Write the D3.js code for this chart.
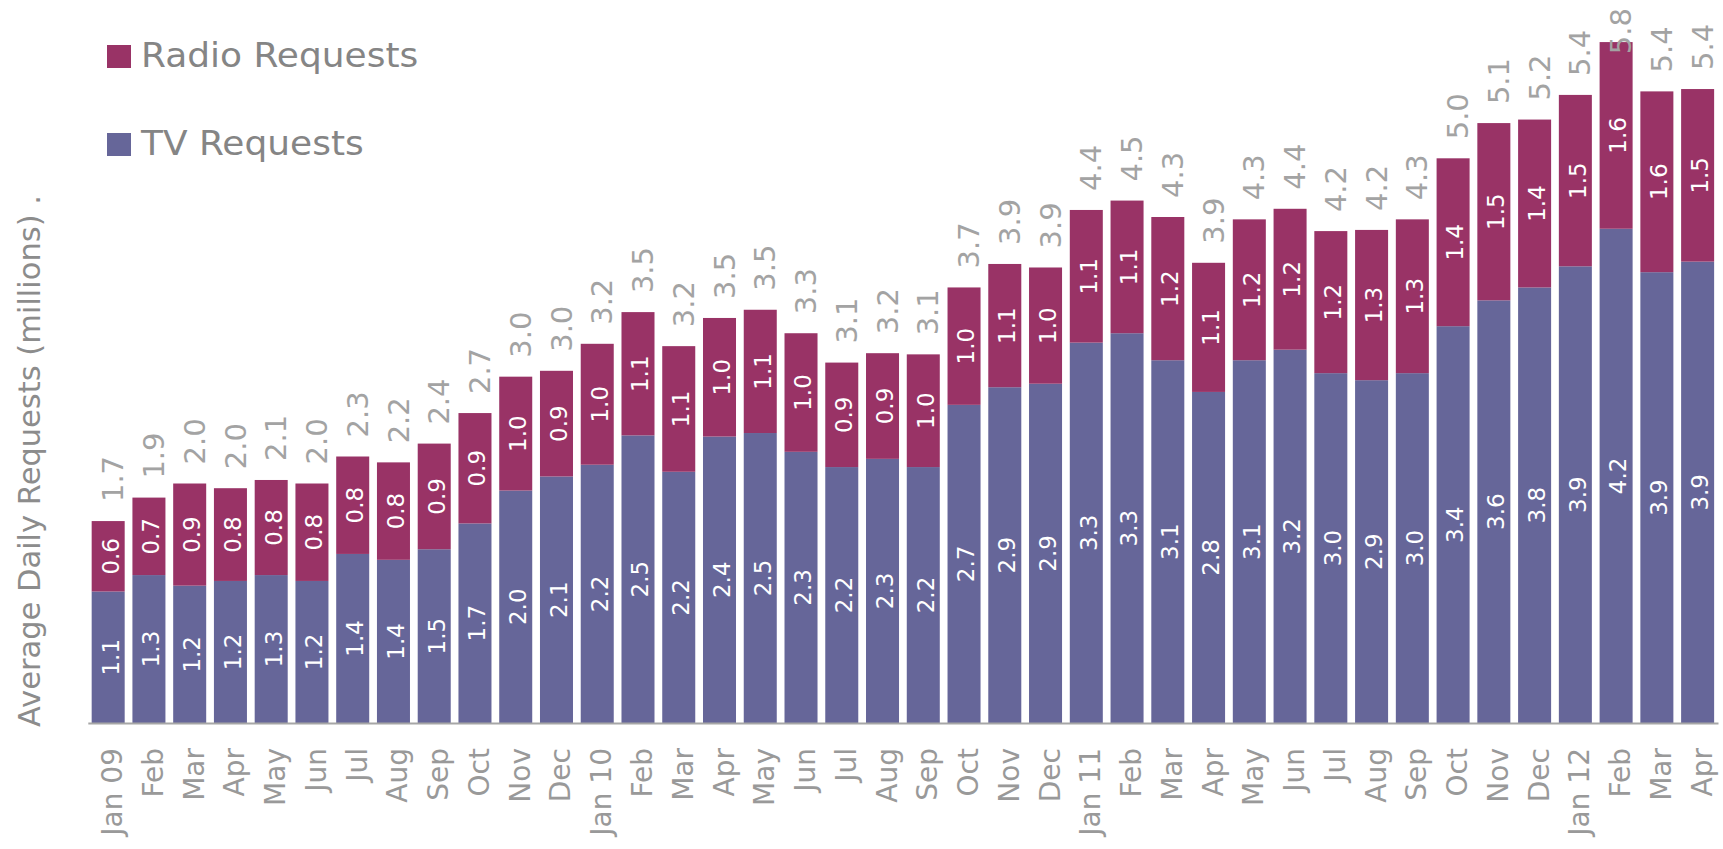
<!DOCTYPE html>
<html>
<head>
<meta charset="utf-8">
<script src="https://cdn.jsdelivr.net/npm/d3@7"></script>
<style>
  html, body { margin: 0; padding: 0; background: #ffffff; }
  svg { display: block; font-family: "DejaVu Sans", Verdana, sans-serif; }
</style>
</head>
<body>
<svg id="chart" width="1723" height="849"></svg>
<script>
// ---- data ----
const months = ["Jan 09","Feb","Mar","Apr","May","Jun","Jul","Aug","Sep","Oct","Nov","Dec",
  "Jan 10","Feb","Mar","Apr","May","Jun","Jul","Aug","Sep","Oct","Nov","Dec",
  "Jan 11","Feb","Mar","Apr","May","Jun","Jul","Aug","Sep","Oct","Nov","Dec",
  "Jan 12","Feb","Mar","Apr"];

// bar values (millions)
const tvValues = [1.12,1.26,1.17,1.21,1.26,1.21,1.44,1.39,1.48,1.70,1.98,2.10,
  2.20,2.45,2.14,2.44,2.47,2.31,2.18,2.25,2.18,2.71,2.86,2.89,
  3.24,3.32,3.09,2.82,3.09,3.18,2.98,2.92,2.98,3.38,3.60,3.71,
  3.89,4.21,3.84,3.93];
const radioValues = [0.60,0.66,0.87,0.79,0.81,0.83,0.83,0.83,0.90,0.94,0.97,0.90,
  1.03,1.05,1.07,1.01,1.05,1.01,0.89,0.90,0.96,1.00,1.05,0.99,
  1.13,1.13,1.22,1.10,1.20,1.20,1.21,1.28,1.31,1.43,1.51,1.43,
  1.46,1.59,1.54,1.47];

// printed labels
const tvLabels = ["1.1","1.3","1.2","1.2","1.3","1.2","1.4","1.4","1.5","1.7","2.0","2.1",
  "2.2","2.5","2.2","2.4","2.5","2.3","2.2","2.3","2.2","2.7","2.9","2.9",
  "3.3","3.3","3.1","2.8","3.1","3.2","3.0","2.9","3.0","3.4","3.6","3.8",
  "3.9","4.2","3.9","3.9"];
const radioLabels = ["0.6","0.7","0.9","0.8","0.8","0.8","0.8","0.8","0.9","0.9","1.0","0.9",
  "1.0","1.1","1.1","1.0","1.1","1.0","0.9","0.9","1.0","1.0","1.1","1.0",
  "1.1","1.1","1.2","1.1","1.2","1.2","1.2","1.3","1.3","1.4","1.5","1.4",
  "1.5","1.6","1.6","1.5"];
const totalLabels = ["1.7","1.9","2.0","2.0","2.1","2.0","2.3","2.2","2.4","2.7","3.0","3.0",
  "3.2","3.5","3.2","3.5","3.5","3.3","3.1","3.2","3.1","3.7","3.9","3.9",
  "4.4","4.5","4.3","3.9","4.3","4.4","4.2","4.2","4.3","5.0","5.1","5.2",
  "5.4","5.8","5.4","5.4"];

const seriesNames = ["TV Requests","Radio Requests"];
const seriesColors = ["#666699","#993366"];
const yTitle = "Average Daily Requests (millions) .";

// ---- build ----
const rows = months.map((m, i) => ({
  key: i, month: m, tv: tvValues[i], radio: radioValues[i],
  tvLabel: tvLabels[i], radioLabel: radioLabels[i], totalLabel: totalLabels[i]
}));

const svg = d3.select("#chart");
const baseY = 723;

const x = d3.scaleBand()
  .domain(rows.map(d => d.key))
  .range([87.8, 1718])
  .paddingInner(0.19)
  .paddingOuter(0.095);

const y = d3.scaleLinear()
  .domain([0, 6])
  .range([baseY, baseY - 6 * 117.4]);

const stack = d3.stack().keys(["tv","radio"]);
const layers = stack(rows);

const gBars = svg.append("g");
layers.forEach((layer, li) => {
  gBars.append("g")
    .attr("fill", seriesColors[li])
    .selectAll("rect")
    .data(layer)
    .join("rect")
      .attr("x", d => x(d.data.key))
      .attr("width", x.bandwidth())
      .attr("y", d => y(d[1]))
      .attr("height", d => y(d[0]) - y(d[1]));
});

// inner labels
layers.forEach((layer, li) => {
  const labKey = li === 0 ? "tvLabel" : "radioLabel";
  svg.append("g")
    .selectAll("text")
    .data(layer)
    .join("text")
      .attr("transform", d => `translate(${x(d.data.key) + x.bandwidth() / 2},${(y(d[0]) + y(d[1])) / 2}) rotate(-90)`)
      .attr("text-anchor", "middle")
      .attr("dy", "0.45em")
      .attr("fill", "#ffffff")
      .style("font-size", "23px")
      .text(d => d.data[labKey]);
});

// total labels (kept inside the picture at the top edge)
const topLayer = layers[layers.length - 1];
svg.append("g")
  .selectAll("text")
  .data(topLayer)
  .join("text")
    .attr("text-anchor", "start")
    .attr("dy", "0.52em")
    .attr("fill", "#a3a3a3")
    .style("font-size", "29px")
    .text(d => d.data.totalLabel)
    .attr("transform", function(d) {
      const len = this.getComputedTextLength();
      const start = Math.max(y(d[1]) - 19, 8 + len);
      return `translate(${x(d.data.key) + x.bandwidth() / 2},${start}) rotate(-90)`;
    });

// x axis
const xAxis = d3.axisBottom(x)
  .tickSize(0)
  .tickSizeOuter(0)
  .tickFormat(k => months[k]);

const gx = svg.append("g")
  .attr("transform", `translate(0,${baseY})`)
  .call(xAxis);
gx.select(".domain").attr("stroke", "#a6a6a6").attr("stroke-width", 2);
gx.selectAll("text")
  .attr("transform", "rotate(-90)")
  .attr("text-anchor", "end")
  .attr("x", -25)
  .attr("y", 0)
  .attr("dy", "0.5em")
  .attr("fill", "#999999")
  .style("font-size", "28px")
  .style("font-family", "\"DejaVu Sans\", Verdana, sans-serif");

// y title
svg.append("text")
  .attr("transform", "translate(40,461) rotate(-90)")
  .attr("text-anchor", "middle")
  .attr("fill", "#8c8c8c")
  .style("font-size", "30.5px")
  .text(yTitle);

// legend
const legendItems = [
  { name: seriesNames[1], color: seriesColors[1], y: 45 },
  { name: seriesNames[0], color: seriesColors[0], y: 133 }
];
const lg = svg.append("g");
legendItems.forEach(it => {
  lg.append("rect").attr("x", 107).attr("y", it.y).attr("width", 24).attr("height", 23).attr("fill", it.color);
  lg.append("text").attr("transform", `translate(141,${it.y + 22}) scale(1.09,1)`)
    .attr("fill", "#858585").style("font-size", "33px").text(it.name);
});
</script>
</body>
</html>
